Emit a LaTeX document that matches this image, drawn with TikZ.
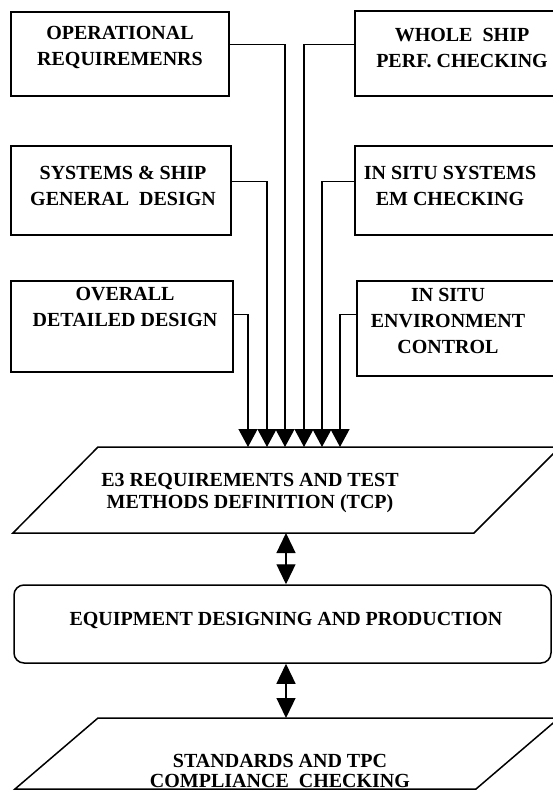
\documentclass[tikz,border=0pt]{standalone}
\usepackage{fontspec}
\setmainfont{Liberation Serif}
\usetikzlibrary{arrows.meta}
\begin{document}
\begin{tikzpicture}[x=1pt,y=-1pt,
 box/.style={draw, line width=1.5pt, rectangle, inner sep=0pt},
 lbl/.style={font=\fontsize{20}{26}\selectfont\bfseries, align=center, inner sep=0pt},
 conn/.style={line width=1.3pt, -{Triangle[width=19pt,length=18pt]}},
 dbl/.style={line width=1.3pt, {Triangle[width=19pt,length=20pt]}-{Triangle[width=19pt,length=20pt]}},
 shp/.style={draw, line width=1.5pt, line join=miter},
]
\clip (0,0) rectangle (553,791);
\fill[white] (0,0) rectangle (553,791);
% boxes
\node[box, minimum width=218pt, minimum height=84pt] (op) at (120,54) {};
\node[box, minimum width=222pt, minimum height=85pt] (wh) at (466,53.5) {};
\node[box, minimum width=220pt, minimum height=89pt] (sy) at (121,190.5) {};
\node[box, minimum width=222pt, minimum height=89pt] (is) at (466,190.5) {};
\node[box, minimum width=222pt, minimum height=91pt] (ov) at (122,326.5) {};
\node[box, minimum width=220pt, minimum height=95pt] (en) at (467,328.5) {};
% texts
\node[lbl] (opt) at (120,48) {OPERATIONAL\\REQUIREMENRS};
\node[lbl] (wht) at (462,48) {WHOLE\ \ SHIP\\PERF. CHECKING};
\node[lbl] (syt) at (123,186) {SYSTEMS \& SHIP\\GENERAL\ \ DESIGN};
\node[lbl] (ist) at (450,186) {IN SITU SYSTEMS\\EM CHECKING};
\node[lbl] (ovt) at (125,307) {OVERALL\\DETAILED DESIGN};
\node[lbl] (ent) at (448,321) {IN SITU\\ENVIRONMENT\\CONTROL};
% arrow targets on the top edge of the E3 shape
\coordinate (a1) at (248,447);
\coordinate (a2) at (267,447);
\coordinate (a3) at (285,447);
\coordinate (a4) at (304,447);
\coordinate (a5) at (322,447);
\coordinate (a6) at (340,447);
% E3 parallelogram
\draw[shp] (13,533) -- (98,447) -- (560,447) -- (474,533) -- cycle;
\node[lbl, font=\fontsize{20}{21.5}\selectfont\bfseries] (e3) at (250,493) {E3 REQUIREMENTS AND TEST\\METHODS DEFINITION (TCP)};
% connectors
\draw[conn] ([yshift=-33pt]op.north east) -| (a3);
\draw[conn] ([yshift=-34pt]wh.north west) -| (a4);
\draw[conn] ([yshift=-36pt]sy.north east) -| (a2);
\draw[conn] ([yshift=-36pt]is.north west) -| (a5);
\draw[conn] ([yshift=-34pt]ov.north east) -| (a1);
\draw[conn] ([yshift=-34pt]en.north west) -| (a6);
% equipment box
\node[box, rounded corners=10pt, minimum width=537pt, minimum height=78pt] (eq) at (282.5,624) {};
\node[lbl] (eqt) at (286,620) {EQUIPMENT DESIGNING AND PRODUCTION};
\coordinate (e3b) at (286,533);
\coordinate (stt) at (286,718);
\draw[dbl] (e3b) -- (e3b |- eq.north);
\draw[dbl] (stt |- eq.south) -- (stt);
% standards parallelogram
\draw[shp] (15,789) -- (98,718) -- (559,718) -- (476,789) -- cycle;
\node[lbl, font=\fontsize{20}{20}\selectfont\bfseries] (stx) at (280,771) {STANDARDS AND TPC\\COMPLIANCE\ \ CHECKING};
\end{tikzpicture}
\end{document}
